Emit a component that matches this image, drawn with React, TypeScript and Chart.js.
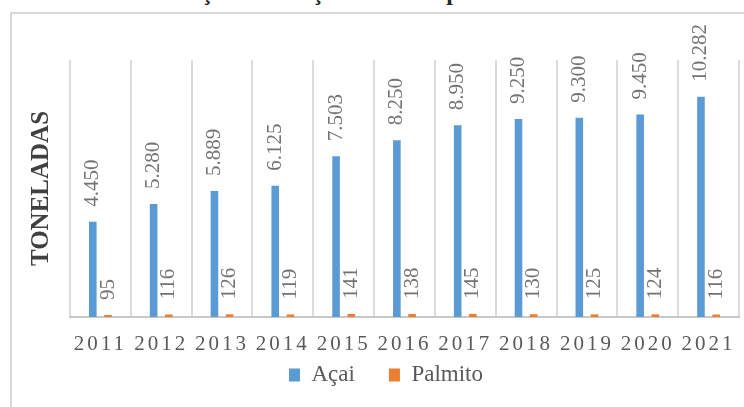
import { useEffect, useRef } from 'react';
import { Chart, registerables } from 'chart.js';

Chart.register(...registerables);

const categories = ['2011', '2012', '2013', '2014', '2015', '2016', '2017', '2018', '2019', '2020', '2021'];
const acaiValues = [4450, 5280, 5889, 6125, 7503, 8250, 8950, 9250, 9300, 9450, 10282];
const palmitoValues = [95, 116, 126, 119, 141, 138, 145, 130, 125, 124, 116];
const seriesNames = ['Açai', 'Palmito'];
const yAxisTitle = 'TONELADAS';
const chartTitle = 'Produção e extração anual de palmito';

const SERIF = "'Liberation Serif', 'Times New Roman', serif";

function fmt(v: number): string {
  if (v >= 1000) {
    return Math.floor(v / 1000) + '.' + String(v % 1000).padStart(3, '0');
  }
  return String(v);
}

const valueLabels = {
  id: 'valueLabels',
  afterDatasetsDraw(chart: any) {
    const ctx = chart.ctx;
    chart.data.datasets.forEach((ds: any, i: number) => {
      const meta = chart.getDatasetMeta(i);
      meta.data.forEach((bar: any, j: number) => {
        const { x, y } = bar.getProps(['x', 'y'], true);
        ctx.save();
        ctx.translate(x, y - 15);
        ctx.rotate(-Math.PI / 2);
        ctx.font = `21px ${SERIF}`;
        ctx.fillStyle = '#737373';
        ctx.textAlign = 'left';
        ctx.textBaseline = 'middle';
        ctx.fillText(fmt(ds.data[j]), 0, 0);
        ctx.restore();
      });
    });
  },
};

const tickSpacing = {
  id: 'tickSpacing',
  beforeDraw(chart: any) {
    const xs: any = chart.scales.x;
    if (xs && !xs.__spaced) {
      const orig = xs.drawLabels.bind(xs);
      xs._computeLabelArea = () => undefined;
      xs.drawLabels = (area: any) => {
        const c: any = chart.ctx;
        c.save();
        c.letterSpacing = '3px';
        orig(area);
        c.restore();
        c.letterSpacing = '0px';
      };
      xs.__spaced = true;
    }
  },
};

export default function App() {
  const ref = useRef<HTMLCanvasElement | null>(null);

  useEffect(() => {
    if (!ref.current) return;
    const chart = new Chart(ref.current, {
      type: 'bar',
      data: {
        labels: categories,
        datasets: [
          {
            label: seriesNames[0],
            data: acaiValues,
            backgroundColor: '#5B9BD5',
            categoryPercentage: 0.5,
            barPercentage: 0.5,
          },
          {
            label: seriesNames[1],
            data: palmitoValues,
            backgroundColor: '#ED7D31',
            categoryPercentage: 0.5,
            barPercentage: 0.5,
          },
        ],
      },
      options: {
        responsive: false,
        animation: false,
        layout: { padding: { left: 29, top: 60, right: 1, bottom: 10.5 } },
        scales: {
          x: {
            grid: { display: true, color: '#dcdcdc', lineWidth: 2, drawTicks: false, offset: true },
            border: { display: true, color: '#c8c8c8', width: 2 },
            ticks: { color: '#595959', font: { family: SERIF, size: 21 }, padding: 14.4, maxRotation: 0, autoSkip: false },
            afterFit: (s: any) => { s.height = 12.5; },
          },
          y: {
            min: 0,
            max: 12000,
            grid: { display: false },
            border: { display: false },
            ticks: { display: false },
            title: {
              display: true,
              text: yAxisTitle,
              color: '#404040',
              font: { family: SERIF, size: 25, weight: 'bold', lineHeight: 1 },
              padding: 0,
            },
            afterFit: (s: any) => { s.width = 41; },
          },
        },
        plugins: {
          legend: {
            position: 'bottom',
            labels: {
              color: '#595959',
              font: { family: SERIF, size: 23 },
              boxWidth: 11,
              boxHeight: 13,
              padding: 34,
            },
          },
          tooltip: { enabled: false },
        },
      },
      plugins: [valueLabels, tickSpacing],
    });
    return () => chart.destroy();
  }, []);

  return (
    <div style={{ position: 'absolute', left: 0, top: 0, width: 744, height: 407, overflow: 'hidden', background: '#fff' }}>
      <div
        style={{
          position: 'absolute',
          left: 138,
          top: -20,
          fontFamily: SERIF,
          fontWeight: 'bold',
          fontSize: 24,
          lineHeight: '24px',
          whiteSpace: 'nowrap',
          color: '#262626',
        }}
      >
        {chartTitle}
      </div>
      <div
        style={{
          position: 'absolute',
          left: 10,
          top: 12,
          width: 800,
          height: 500,
          border: '2px solid #d9d9d9',
          boxSizing: 'border-box',
        }}
      />
      <canvas ref={ref} width={744} height={407} style={{ position: 'absolute', left: 0, top: 0 }} />
    </div>
  );
}
